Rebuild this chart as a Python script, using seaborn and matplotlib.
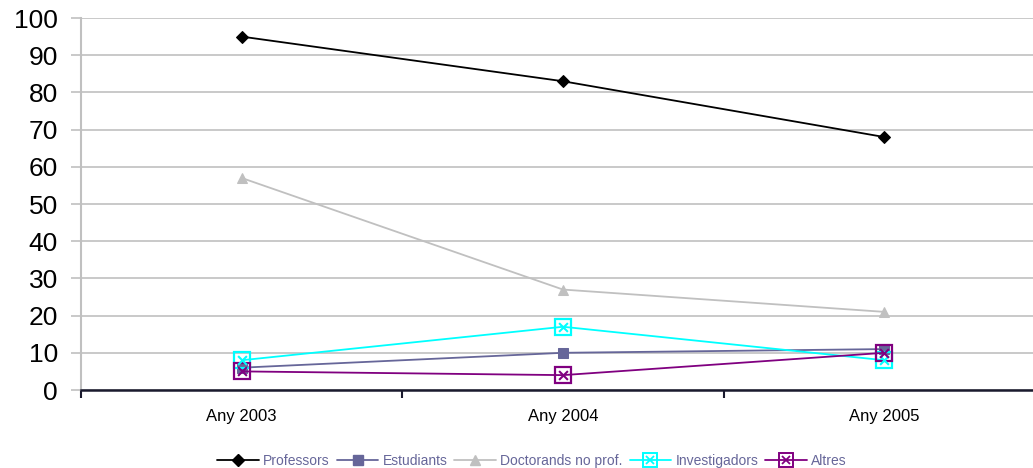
import pandas as pd
import numpy as np
import matplotlib.pyplot as plt
import seaborn as sns
from matplotlib.lines import Line2D
from matplotlib.legend_handler import HandlerTuple

# data
years = ['Any 2003', 'Any 2004', 'Any 2005']
professors = [95, 83, 68]
estudiants = [6, 10, 11]
doctorands = [57, 27, 21]
investigadors = [8, 17, 8]
altres = [5, 4, 10]

series = ['Professors', 'Estudiants', 'Doctorands no prof.', 'Investigadors', 'Altres']
colors = ['#000000', '#666699', '#c0c0c0', '#00ffff', '#800080']
markers = ['D', 's', '^', 's', 's']
boxed = ['Investigadors', 'Altres']

df = pd.DataFrame({
    'year': years * 5,
    'x': list(range(3)) * 5,
    'value': professors + estudiants + doctorands + investigadors + altres,
    'series': np.repeat(series, 3),
})

sns.set_style('white')
plt.rcParams['font.family'] = ['Liberation Sans', 'DejaVu Sans']

fig = plt.figure(figsize=(10.33, 4.68), dpi=100)
ax = fig.add_axes([81 / 1033, 1 - 390 / 468, (1045 - 81) / 1033, (390 - 18) / 468])

handles = []
for name, c, m in zip(series, colors, markers):
    sub = df[df['series'] == name]
    if name in boxed:
        sns.lineplot(data=sub, x='x', y='value', color=c, marker='s', markersize=11,
                     markerfacecolor='none', markeredgecolor=c, markeredgewidth=1.6,
                     linewidth=1.3, ax=ax, legend=False)
        sns.scatterplot(data=sub, x='x', y='value', color=c, marker='x', s=40,
                        linewidth=1.5, ax=ax, legend=False, zorder=5)
        h = (Line2D([0], [0], color=c, marker='s', markersize=10, linewidth=1.3,
                    markerfacecolor='none', markeredgecolor=c, markeredgewidth=1.4),
             Line2D([0], [0], color=c, marker='x', markersize=6, linewidth=0,
                    markeredgewidth=1.3))
    else:
        ms = 6 if m == 'D' else 7
        sns.lineplot(data=sub, x='x', y='value', color=c, marker=m, markersize=ms,
                     markeredgecolor=c, linewidth=1.3, ax=ax, legend=False)
        h = Line2D([0], [0], color=c, marker=m, markersize=ms, linewidth=1.3,
                   markeredgecolor=c)
    handles.append(h)

ax.set_xlim(-0.5, 2.5)
ax.set_ylim(0, 100)
ax.set_yticks(range(0, 101, 10))
ax.set_xticks([-0.5, 0.5, 1.5, 2.5])
ax.set_xticklabels([])
ax.set_xticks(range(3), minor=True)
ax.set_xticklabels(years, minor=True, fontsize=12, color='black')
ax.tick_params(axis='x', which='minor', bottom=False, length=0, pad=14)
ax.tick_params(axis='x', which='major', bottom=True, length=6, width=1.5,
               direction='out', color='#1a1a2e')
ax.tick_params(axis='y', left=True, length=7.5, width=1.2, direction='out', color='#c0c0c0',
               labelsize=19, labelcolor='black', pad=9)
ax.grid(axis='y', color='#c0c0c0', linewidth=1.2)
ax.set_axisbelow(True)
ax.set_xlabel('')
ax.set_ylabel('')
for s in ['top', 'right']:
    ax.spines[s].set_visible(False)
ax.spines['left'].set_color('#c0c0c0')
ax.spines['left'].set_linewidth(1.5)
ax.spines['bottom'].set_color('#1a1a2e')
ax.spines['bottom'].set_linewidth(1.8)

# legend at the bottom
leg = fig.legend(handles, series, loc='center', bbox_to_anchor=(0.515, 1 - 461 / 468),
                 ncol=5, frameon=False, fontsize=10, handlelength=3, columnspacing=0.5,
                 handletextpad=0.3, handler_map={tuple: HandlerTuple(ndivide=1)})
for t in leg.get_texts():
    t.set_color('#666699')

fig.savefig('out.png', dpi=100)
